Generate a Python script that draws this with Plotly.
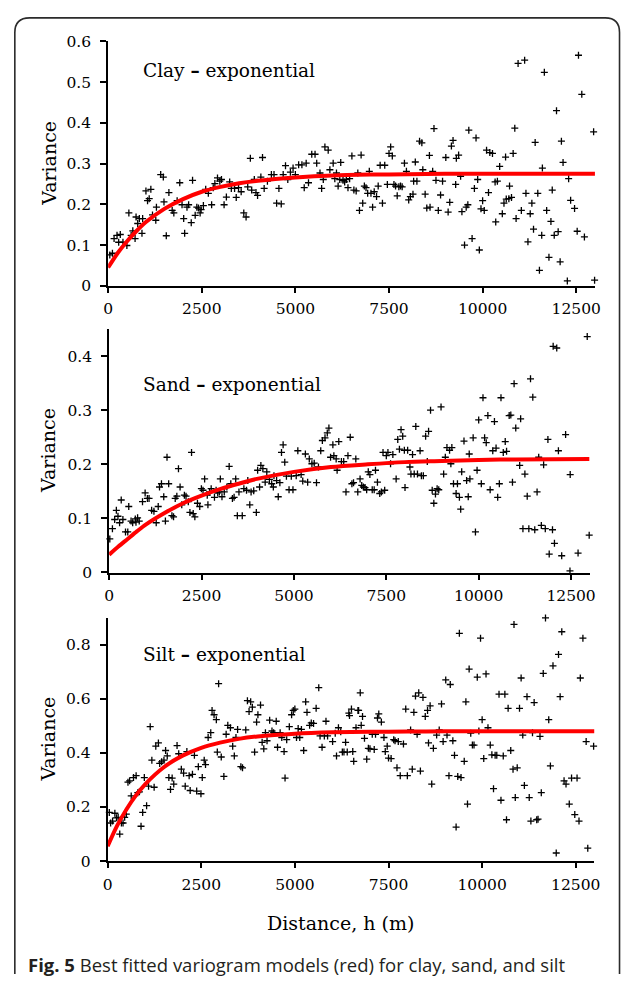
import plotly.graph_objects as go

# ---------------- data ----------------
clay_h = [44, 114, 158, 237, 324, 281, 395, 500, 553, 614,
          658, 719, 745, 789, 833, 921, 903, 1009, 1140, 1052,
          1096, 1184, 1272, 1289, 1403, 1473, 1491, 1552, 1622, 1710,
          1754, 1842, 1912, 1973, 2017, 2043, 2105, 2149, 2219, 2254,
          2324, 2368, 2412, 2456, 2482, 2543, 2605, 2675, 2763, 2806,
          2850, 2920, 2982, 3026, 3096, 3157, 3245, 3289, 3376, 3420,
          3482, 3552, 3622, 3683, 3727, 3797, 3833, 3903, 3947, 3990,
          4122, 4078, 4166, 4253, 4359, 4429, 4499, 4560, 4622, 4674,
          4736, 4797, 4867, 4938, 4999, 5087, 5174, 5236, 5288, 5350,
          5437, 5525, 5569, 5657, 5701, 5745, 5788, 5876,
          5921, 6009, 6053, 6097, 6141, 6211, 6185, 6272, 6316, 6360,
          6404, 6448, 6509, 6562, 6623, 6667, 6711, 6755, 6798, 6842,
          6886, 6930, 6974, 7018, 7062, 7105, 7167, 7211, 7263, 7325,
          7386, 7456, 7500, 7544, 7588, 7632, 7675, 7719, 7763, 7807,
          7851, 7912, 7965, 8026, 8070, 8140, 8158, 8202, 8245, 8316,
          8377, 8403, 8465, 8509, 8579, 8596, 8666, 8701, 8754, 8816,
          8877, 8930, 9017, 9079, 9122, 9166, 9210, 9280, 9298, 9359,
          9412, 9447, 9517, 9561, 9605, 9631, 9719, 9780, 9824, 9868,
          9912, 9956, 10000, 10043, 10105, 10157, 10192, 10263, 10333, 10350,
          10394, 10455, 10526, 10570, 10613, 10631, 10701, 10719, 10771, 10815,
          10859, 10894, 10947, 11034, 11122, 11157, 11210, 11271, 11315, 11359,
          11403, 11473, 11517, 11578, 11596, 11648, 11710, 11771, 11824, 11859,
          11912, 11973, 12017, 12070, 12104, 12148, 12262, 12297, 12350, 12455,
          12525, 12560, 12648, 12718, 12964, 12990]
clay_v = [0.076, 0.080, 0.116, 0.124, 0.126, 0.107, 0.107, 0.099, 0.179, 0.124,
          0.135, 0.116, 0.169, 0.153, 0.165, 0.165, 0.129, 0.233, 0.237, 0.209,
          0.214, 0.174, 0.161, 0.193, 0.273, 0.267, 0.206, 0.123, 0.229, 0.185,
          0.179, 0.209, 0.253, 0.199, 0.165, 0.129, 0.193, 0.199, 0.155, 0.259,
          0.173, 0.193, 0.191, 0.179, 0.187, 0.197, 0.237, 0.227, 0.199, 0.241,
          0.251, 0.265, 0.257, 0.261, 0.199, 0.218, 0.255, 0.239, 0.239, 0.217,
          0.241, 0.231, 0.179, 0.169, 0.243, 0.313, 0.235, 0.261, 0.229, 0.222,
          0.315, 0.267, 0.239, 0.257, 0.273, 0.273, 0.203, 0.239, 0.201, 0.273,
          0.295, 0.261, 0.279, 0.289, 0.273, 0.297, 0.297, 0.241, 0.301, 0.253,
          0.323, 0.323, 0.301, 0.277, 0.239, 0.261, 0.341, 0.333,
          0.285, 0.301, 0.263, 0.277, 0.245, 0.303, 0.261, 0.259, 0.255, 0.261,
          0.241, 0.263, 0.319, 0.235, 0.233, 0.277, 0.185, 0.321, 0.203, 0.245,
          0.241, 0.227, 0.281, 0.227, 0.193, 0.231, 0.219, 0.245, 0.296, 0.203,
          0.296, 0.249, 0.325, 0.341, 0.319, 0.249, 0.245, 0.221, 0.243, 0.245,
          0.243, 0.301, 0.281, 0.211, 0.219, 0.225, 0.257, 0.304, 0.257, 0.355,
          0.351, 0.285, 0.225, 0.191, 0.320, 0.193, 0.281, 0.386, 0.259, 0.185,
          0.223, 0.257, 0.315, 0.181, 0.205, 0.343, 0.357, 0.249, 0.313, 0.321,
          0.269, 0.182, 0.100, 0.193, 0.199, 0.382, 0.116, 0.239, 0.363, 0.261,
          0.088, 0.189, 0.209, 0.185, 0.333, 0.229, 0.327, 0.325, 0.255, 0.157,
          0.257, 0.293, 0.177, 0.203, 0.316, 0.213, 0.214, 0.245, 0.217, 0.325,
          0.387, 0.165, 0.546, 0.185, 0.554, 0.227, 0.108, 0.177, 0.203, 0.139,
          0.352, 0.227, 0.038, 0.124, 0.289, 0.524, 0.185, 0.070, 0.158, 0.235,
          0.124, 0.430, 0.133, 0.059, 0.355, 0.303, 0.012, 0.263, 0.210, 0.190,
          0.134, 0.566, 0.470, 0.120, 0.378, 0.014]

sand_h = [18, 89, 150, 195, 239, 283, 327, 372, 443, 504,
          531, 593, 637, 708, 726, 770, 814, 903, 974, 1035,
          1080, 1150, 1212, 1274, 1328, 1363, 1416, 1478, 1522, 1566,
          1611, 1699, 1743, 1788, 1832, 1876, 1920, 1965, 2036, 2080,
          2142, 2186, 2230, 2275, 2319, 2390, 2452, 2496, 2540, 2584,
          2655, 2673, 2717, 2761, 2850, 2894, 2938, 2982, 3009, 3053,
          3115, 3186, 3248, 3292, 3336, 3381, 3425, 3469, 3513, 3602,
          3646, 3717, 3752, 3806, 3841, 3912, 3983, 4018, 4071, 4106,
          4160, 4222, 4266, 4337, 4399, 4443, 4460, 4531, 4576, 4620,
          4664, 4708, 4752, 4797, 4868, 4929, 4974, 5062, 5106, 5195,
          5239, 5310, 5372, 5416, 5487, 5549, 5611, 5664, 5726, 5770,
          5841, 5903, 5947,
          5992, 6054, 6081, 6143, 6169, 6214, 6285, 6347, 6409, 6462,
          6524, 6569, 6613, 6675, 6728, 6790, 6835, 6879, 6924, 6968,
          7012, 7056, 7119, 7172, 7207, 7260, 7323, 7367, 7411, 7456,
          7500, 7544, 7615, 7677, 7766, 7810, 7855, 7899, 7944, 7988,
          8006, 8077, 8139, 8166, 8210, 8255, 8298, 8343, 8414, 8450,
          8502, 8564, 8609, 8644, 8697, 8742, 8786, 8830, 8875, 8919,
          8981, 9052, 9097, 9141, 9212, 9247, 9274, 9318, 9389, 9425,
          9478, 9513, 9540, 9602, 9673, 9717, 9744, 9762, 9850, 9912,
          9956, 10000, 10071, 10116, 10160, 10204, 10248, 10310, 10381, 10426,
          10470, 10514, 10559, 10603, 10665, 10718, 10754, 10825, 10869, 10914,
          10958, 11003, 11109, 11135, 11197, 11250, 11313, 11357, 11402, 11464,
          11517, 11580, 11624, 11695, 11757, 11802, 11873, 11908, 11997, 12050,
          12015, 12112, 12157, 12246, 12352, 12476, 12470, 12689, 12937, 12990]
sand_v = [0.062, 0.081, 0.098, 0.115, 0.104, 0.092, 0.134, 0.098, 0.075, 0.075,
          0.122, 0.095, 0.092, 0.099, 0.093, 0.101, 0.095, 0.131, 0.147, 0.137,
          0.137, 0.115, 0.113, 0.092, 0.122, 0.158, 0.164, 0.140, 0.095, 0.213,
          0.164, 0.105, 0.103, 0.137, 0.141, 0.192, 0.158, 0.125, 0.143, 0.141,
          0.131, 0.111, 0.222, 0.109, 0.103, 0.128, 0.122, 0.155, 0.152, 0.173,
          0.143, 0.125, 0.149, 0.155, 0.139, 0.152, 0.147, 0.149, 0.173, 0.140,
          0.149, 0.158, 0.196, 0.164, 0.137, 0.139, 0.173, 0.105, 0.149, 0.105,
          0.155, 0.152, 0.170, 0.125, 0.149, 0.151, 0.111, 0.189, 0.158, 0.198,
          0.192, 0.167, 0.186, 0.172, 0.164, 0.158, 0.179, 0.170, 0.140, 0.166,
          0.222, 0.236, 0.204, 0.178, 0.153, 0.178, 0.153, 0.179, 0.225, 0.181,
          0.169, 0.219, 0.167, 0.210, 0.201, 0.202, 0.166, 0.195, 0.225, 0.244,
          0.249, 0.258, 0.267,
          0.213, 0.236, 0.216, 0.210, 0.189, 0.242, 0.205, 0.205, 0.149, 0.216,
          0.250, 0.164, 0.166, 0.210, 0.149, 0.173, 0.161, 0.158, 0.157, 0.153,
          0.186, 0.181, 0.153, 0.153, 0.189, 0.167, 0.146, 0.149, 0.222, 0.152,
          0.216, 0.222, 0.201, 0.218, 0.173, 0.246, 0.228, 0.264, 0.252, 0.226,
          0.157, 0.226, 0.195, 0.182, 0.218, 0.182, 0.270, 0.182, 0.225, 0.179,
          0.179, 0.252, 0.205, 0.261, 0.300, 0.152, 0.128, 0.145, 0.155, 0.153,
          0.306, 0.182, 0.213, 0.231, 0.226, 0.201, 0.231, 0.164, 0.146, 0.164,
          0.139, 0.117, 0.186, 0.243, 0.170, 0.140, 0.219, 0.173, 0.249, 0.075,
          0.189, 0.282, 0.164, 0.323, 0.249, 0.240, 0.290, 0.153, 0.225, 0.279,
          0.230, 0.139, 0.164, 0.323, 0.222, 0.242, 0.224, 0.290, 0.291, 0.167,
          0.349, 0.267, 0.198, 0.284, 0.081, 0.182, 0.141, 0.081, 0.358, 0.324,
          0.079, 0.149, 0.213, 0.087, 0.199, 0.081, 0.246, 0.034, 0.079, 0.054,
          0.418, 0.415, 0.225, 0.031, 0.255, 0.181, 0.003, 0.036, 0.436, 0.069]

silt_h = [44, 79, 131, 192, 236, 280, 323, 367, 411, 454,
          498, 542, 586, 629, 690, 760, 804, 848, 891, 935,
          979, 1040, 1092, 1136, 1180, 1241, 1285, 1355, 1390, 1442,
          1503, 1547, 1591, 1634, 1678, 1722, 1765, 1853, 1897, 1967,
          2028, 2071, 2115, 2176, 2203, 2264, 2316, 2377, 2421, 2491,
          2526, 2578, 2613, 2683, 2753, 2788, 2841, 2902, 2928, 2963,
          3033, 3103, 3164, 3208, 3278, 3339, 3382, 3426, 3470, 3557,
          3601, 3688, 3732, 3776, 3819, 3863, 3924, 3977, 4012, 4082,
          4125, 4169, 4213, 4256, 4326, 4388, 4432, 4501, 4536, 4606,
          4650, 4711, 4737, 4781, 4851, 4912, 4956, 4999, 5043, 5087,
          5130, 5174, 5235, 5288, 5323, 5393, 5437, 5498, 5567, 5637,
          5672, 5725, 5786, 5830, 5873,
          6007, 6077, 6111, 6163, 6224, 6267, 6310, 6354, 6398, 6441,
          6458, 6510, 6545, 6571, 6632, 6684, 6701, 6745, 6771, 6806,
          6858, 6918, 6962, 7005, 7066, 7118, 7153, 7205, 7240, 7309,
          7378, 7413, 7465, 7500, 7569, 7639, 7674, 7726, 7761, 7813,
          7899, 7960, 8003, 8090, 8134, 8177, 8220, 8264, 8307, 8351,
          8420, 8481, 8542, 8568, 8611, 8654, 8698, 8785, 8854, 8915,
          8958, 9028, 9062, 9114, 9149, 9218, 9262, 9305, 9349, 9392,
          9436, 9522, 9566, 9609, 9653, 9696, 9740, 9783, 9870, 9913,
          9957, 10000, 10043, 10104, 10156, 10217, 10260, 10304, 10347, 10391,
          10451, 10503, 10564, 10607, 10651, 10694, 10764, 10825, 10851, 10885,
          10937, 10998, 11041, 11085, 11128, 11198, 11258, 11302, 11345, 11389,
          11458, 11493, 11545, 11580, 11632, 11692, 11779, 11823, 11892, 11979,
          12040, 12083, 12127, 12188, 12240, 12327, 12388, 12474, 12535, 12587,
          12622, 12691, 12778, 12821, 12977]
silt_v = [0.180, 0.141, 0.148, 0.177, 0.160, 0.162, 0.100, 0.141, 0.141, 0.162,
          0.174, 0.292, 0.297, 0.241, 0.309, 0.316, 0.253, 0.256, 0.129, 0.180,
          0.309, 0.205, 0.277, 0.497, 0.373, 0.273, 0.425, 0.437, 0.361, 0.367,
          0.373, 0.409, 0.389, 0.309, 0.265, 0.307, 0.285, 0.427, 0.397, 0.340,
          0.325, 0.277, 0.405, 0.316, 0.261, 0.321, 0.391, 0.259, 0.349, 0.249,
          0.309, 0.373, 0.357, 0.457, 0.475, 0.557, 0.541, 0.523, 0.403, 0.656,
          0.385, 0.313, 0.469, 0.502, 0.493, 0.425, 0.389, 0.457, 0.487, 0.349,
          0.345, 0.485, 0.593, 0.553, 0.589, 0.569, 0.403, 0.514, 0.541, 0.577,
          0.439, 0.415, 0.475, 0.445, 0.521, 0.481, 0.475, 0.517, 0.421, 0.475,
          0.457, 0.405, 0.307, 0.449, 0.497, 0.541, 0.557, 0.562, 0.457, 0.490,
          0.457, 0.487, 0.409, 0.589, 0.550, 0.502, 0.511, 0.509, 0.565, 0.641,
          0.463, 0.421, 0.463, 0.517, 0.463,
          0.442, 0.473, 0.389, 0.493, 0.478, 0.403, 0.403, 0.439, 0.403, 0.547,
          0.538, 0.562, 0.405, 0.369, 0.493, 0.557, 0.557, 0.622, 0.502, 0.535,
          0.454, 0.377, 0.417, 0.415, 0.469, 0.413, 0.469, 0.529, 0.544, 0.514,
          0.457, 0.405, 0.425, 0.381, 0.379, 0.449, 0.445, 0.345, 0.442, 0.316,
          0.433, 0.562, 0.316, 0.485, 0.340, 0.550, 0.610, 0.469, 0.622, 0.333,
          0.605, 0.535, 0.557, 0.437, 0.574, 0.285, 0.417, 0.466, 0.485, 0.581,
          0.442, 0.670, 0.466, 0.316, 0.653, 0.445, 0.391, 0.126, 0.313, 0.842,
          0.309, 0.369, 0.589, 0.211, 0.710, 0.473, 0.429, 0.429, 0.680, 0.481,
          0.824, 0.523, 0.379, 0.692, 0.493, 0.429, 0.393, 0.268, 0.391, 0.391,
          0.617, 0.225, 0.389, 0.617, 0.153, 0.565, 0.409, 0.340, 0.875, 0.235,
          0.345, 0.565, 0.677, 0.466, 0.280, 0.608, 0.235, 0.148, 0.475, 0.586,
          0.153, 0.155, 0.461, 0.253, 0.694, 0.899, 0.523, 0.352, 0.722, 0.030,
          0.764, 0.608, 0.848, 0.297, 0.285, 0.211, 0.307, 0.172, 0.307, 0.148,
          0.677, 0.824, 0.442, 0.048, 0.425]

# fitted exponential models
model_h = [0, 250, 500, 750, 1000, 1500, 2000, 2500, 3000, 3500,
           4000, 5000, 6000, 7000, 8000, 9000, 10000, 11000, 13000]
clay_model = [0.045, 0.080, 0.109, 0.134, 0.156, 0.189, 0.213, 0.231, 0.243, 0.252,
              0.258, 0.266, 0.271, 0.273, 0.274, 0.275, 0.275, 0.275, 0.275]
sand_model = [0.033, 0.048, 0.062, 0.076, 0.089, 0.110, 0.128, 0.142, 0.154, 0.164,
              0.173, 0.186, 0.195, 0.200, 0.204, 0.206, 0.208, 0.209, 0.210]
silt_model = [0.055, 0.130, 0.191, 0.242, 0.284, 0.347, 0.390, 0.419, 0.438, 0.452,
              0.461, 0.471, 0.476, 0.478, 0.479, 0.480, 0.480, 0.480, 0.480]

panel_names = ["Clay", "Sand", "Silt"]
model_name = "exponential"
y_ranges = [[0, 0.6], [0, 0.45], [0, 0.9]]
y_dticks = [0.1, 0.1, 0.2]
x_range = [0, 13000]
x_dtick = 2500
x_title = "Distance, h (m)"
y_title = "Variance"
caption_bold = "Fig. 5"
caption_text = "Best fitted variogram models (red) for clay, sand, and silt"

# ---------------- layout helpers (pixel -> paper) ----------------
W, H = 627, 984
def fx(p):
    return p / W
def fy(p):
    return 1 - p / H

# panel boxes in pixels: (x_left, x_right, y_bottom, y_top)
boxes = [(105, 600.5, 282, 33), (106, 595, 574, 326), (104.5, 600, 868, 620)]
title_y_px = [63, 383, 658]

SERIF = "DejaVu Serif"
series = [(clay_h, clay_v, clay_model), (sand_h, sand_v, sand_model), (silt_h, silt_v, silt_model)]

fig = go.Figure()
layout = dict(width=W, height=H, margin=dict(l=0, r=0, t=0, b=0),
              paper_bgcolor="white", plot_bgcolor="white", showlegend=False)
annotations = []

for i, ((hx, vy, mod), box) in enumerate(zip(series, boxes)):
    n = "" if i == 0 else str(i + 1)
    xa, ya = "x" + n, "y" + n
    fig.add_trace(go.Scatter(x=hx, y=vy, mode="markers", xaxis=xa, yaxis=ya,
                             marker=dict(symbol="cross-thin", size=5,
                                         line=dict(width=1.3, color="black")),
                             cliponaxis=False, hoverinfo="skip"))
    fig.add_trace(go.Scatter(x=model_h, y=mod, mode="lines", xaxis=xa, yaxis=ya,
                             line=dict(color="#ff0000", width=4, shape="spline", smoothing=0.8),
                             hoverinfo="skip"))
    xl, xr, yb, yt = box
    layout["xaxis" + n] = dict(domain=[fx(xl), fx(xr)], anchor=ya, range=x_range,
                               tick0=0, dtick=x_dtick, ticks="outside", ticklen=5, tickwidth=1.5,
                               tickcolor="black", showline=True, linewidth=2, linecolor="black",
                               showgrid=False, zeroline=False, tickformat="d",
                               tickfont=dict(family=SERIF, size=15.5, color="black"),
                               ticklabelstandoff=3)
    layout["yaxis" + n] = dict(domain=[fy(yb), fy(yt)], anchor=xa, range=y_ranges[i],
                               tick0=0, dtick=y_dticks[i], ticks="outside", ticklen=6, tickwidth=1.5,
                               tickcolor="black", showline=True, linewidth=2, linecolor="black",
                               showgrid=False, zeroline=False,
                               tickfont=dict(family=SERIF, size=15.5, color="black"),
                               ticklabelstandoff=6)
    annotations.append(dict(text=panel_names[i] + " <b>\u2013</b> " + model_name,
                            x=fx(138), y=fy(title_y_px[i]),
                            xref="paper", yref="paper", xanchor="left", yanchor="middle",
                            showarrow=False, font=dict(family=SERIF, size=18.5, color="black")))
    annotations.append(dict(text=y_title, x=fx(44), y=fy((yb + yt) / 2),
                            xref="paper", yref="paper", xanchor="center", yanchor="middle",
                            textangle=-90, showarrow=False,
                            font=dict(family=SERIF, size=19, color="black")))

annotations.append(dict(text=x_title, x=fx(341.5), y=fy(931), xref="paper", yref="paper",
                        xanchor="center", yanchor="middle", showarrow=False,
                        font=dict(family=SERIF, size=19, color="black")))
annotations.append(dict(text="<b>" + caption_bold + "</b> " + caption_text,
                        x=fx(21), y=fy(973), xref="paper", yref="paper",
                        xanchor="left", yanchor="middle", showarrow=False,
                        font=dict(family="Open Sans", size=18.5, color="#231f20")))
layout["annotations"] = annotations

# rounded frame around the figure (kept inside the canvas; bottom runs off the page)
def P(x, y):
    return f"{fx(x):.5f},{fy(y):.5f}"
frame = (f"M {P(10, 983)} L {P(10, 24)} Q {P(10, 9)} {P(25, 9)} L {P(611, 9)} "
         f"Q {P(625.5, 9)} {P(625.5, 24)} L {P(625.5, 983)}")
layout["shapes"] = [dict(type="path", path=frame, xref="paper", yref="paper",
                         line=dict(color="#2b2b2b", width=1.6), layer="above")]

fig.update_layout(**layout)
fig.write_html("out.html")
